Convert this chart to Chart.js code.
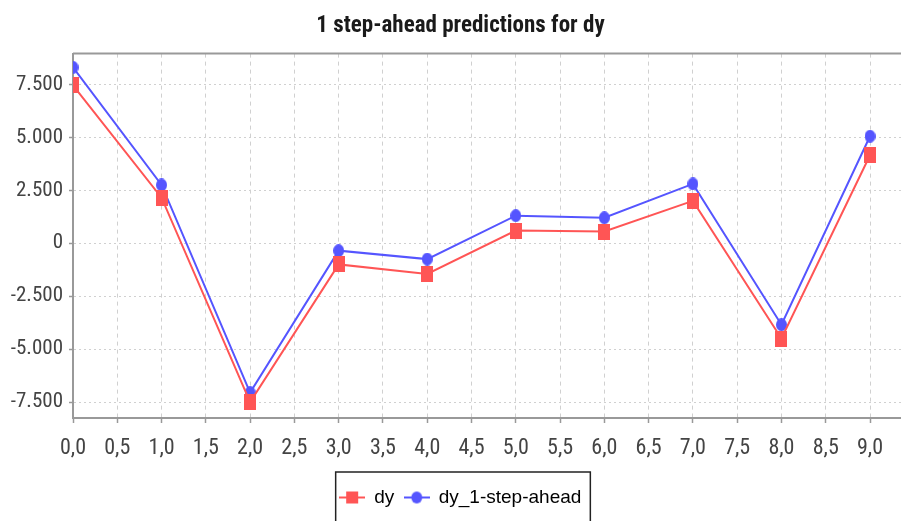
<!DOCTYPE html>
<html>
<head>
<meta charset="utf-8">
<script src="https://cdn.jsdelivr.net/npm/chart.js@4.4.1/dist/chart.umd.min.js"></script>
<style>
  html, body { margin: 0; padding: 0; background: #fff; }
  #wrap { width: 901px; height: 521px; }
</style>
</head>
<body>
<div id="wrap"><canvas id="chart"></canvas></div>
<script>
// data
const steps = [0, 1, 2, 3, 4, 5, 6, 7, 8, 9];
const dyValues = [7450, 2150, -7500, -1000, -1450, 600, 550, 2000, -4500, 4150];
const aheadValues = [8300, 2750, -7050, -350, -750, 1300, 1200, 2800, -3850, 5050];
const xTickValues = [0, 0.5, 1, 1.5, 2, 2.5, 3, 3.5, 4, 4.5, 5, 5.5, 6, 6.5, 7, 7.5, 8, 8.5, 9];
const yTickValues = [-7500, -5000, -2500, 0, 2500, 5000, 7500];

const RED = '#ff5555';
const BLUE = '#5555ff';
const narrow = "'Roboto Condensed', 'Liberation Sans', sans-serif";

// point markers (JFreeChart style, slightly tall)
function makeMarker(w, h, color, shape) {
    const c = document.createElement('canvas');
    c.width = w;
    c.height = h;
    const g = c.getContext('2d');
    g.fillStyle = color;
    if (shape === 'rect') {
        g.fillRect(0, 0, w, h);
    } else {
        g.beginPath();
        g.ellipse(w / 2, h / 2, w / 2, h / 2, 0, 0, Math.PI * 2);
        g.fill();
    }
    return c;
}

// legend icon: short line with the marker in the middle
function makeLegendIcon(color, shape) {
    const c = document.createElement('canvas');
    c.width = 26;
    c.height = 14;
    const g = c.getContext('2d');
    g.strokeStyle = color;
    g.lineWidth = 2;
    g.beginPath();
    g.moveTo(0, 7);
    g.lineTo(26, 7);
    g.stroke();
    g.fillStyle = color;
    if (shape === 'rect') {
        g.fillRect(7, 1, 12, 12);
    } else {
        g.beginPath();
        g.ellipse(13, 7, 5.5, 6, 0, 0, Math.PI * 2);
        g.fill();
    }
    return c;
}

const redSquare = makeMarker(12, 16, RED, 'rect');
const blueDot = makeMarker(11, 13, BLUE, 'circle');
const legendIcons = [makeLegendIcon(RED, 'rect'), makeLegendIcon(BLUE, 'circle')];

// thin frame line on top of the plot and a box around the legend
const framePlugin = {
    id: 'frame',
    afterDraw(chart) {
        const ctx = chart.ctx;
        const area = chart.chartArea;
        ctx.save();
        ctx.strokeStyle = '#999';
        ctx.lineWidth = 2;
        ctx.beginPath();
        ctx.moveTo(area.left, area.top);
        ctx.lineTo(area.right, area.top);
        ctx.stroke();

        const legend = chart.legend;
        const boxes = legend.legendHitBoxes;
        if (boxes && boxes.length) {
            const first = boxes[0];
            const last = boxes[boxes.length - 1];
            const left = first.left - 4;
            const right = last.left + last.width + 9;
            const top = legend.top - 6;
            ctx.strokeStyle = '#222';
            ctx.lineWidth = 1.5;
            ctx.strokeRect(left, top, right - left, chart.height + 10 - top);
        }
        ctx.restore();
    }
};

const ctx = document.getElementById('chart').getContext('2d');
const chart = new Chart(ctx, {
    type: 'line',
    data: {
        datasets: [{
            label: 'dy',
            data: steps.map((s, i) => ({ x: s, y: dyValues[i] })),
            borderColor: RED,
            backgroundColor: RED,
            borderWidth: 2,
            pointStyle: redSquare,
            pointRadius: 6,
            pointHoverRadius: 6,
            tension: 0,
            clip: 0
        }, {
            label: 'dy_1-step-ahead',
            data: steps.map((s, i) => ({ x: s, y: aheadValues[i] })),
            borderColor: BLUE,
            backgroundColor: BLUE,
            borderWidth: 2,
            pointStyle: blueDot,
            pointRadius: 6,
            pointHoverRadius: 6,
            tension: 0,
            clip: 0
        }]
    },
    options: {
        responsive: true,
        maintainAspectRatio: false,
        animation: false,
        layout: {
            autoPadding: false,
            // title and legend sit a little right of the canvas centre
            padding: { left: 0, right: -20, top: 0, bottom: 4 }
        },
        scales: {
            x: {
                type: 'linear',
                min: 0,
                max: 9.35,
                afterBuildTicks: scale => {
                    scale.ticks = xTickValues.map(v => ({ value: v }));
                },
                afterFit: scale => {
                    scale.height = 60;
                },
                grid: {
                    color: '#d0d0d0',
                    tickColor: '#999',
                    tickLength: 5,
                    tickWidth: 1.5
                },
                border: { color: '#999', width: 2, dash: [4, 4] },
                ticks: {
                    autoSkip: false,
                    maxRotation: 0,
                    padding: 12,
                    color: '#444',
                    font: { family: narrow, size: 22 },
                    callback: v => v.toFixed(1).replace('.', ',')
                }
            },
            y: {
                min: -8250,
                max: 8950,
                afterBuildTicks: scale => {
                    scale.ticks = yTickValues.map(v => ({ value: v }));
                },
                afterFit: scale => {
                    scale.width = 73;
                },
                grid: {
                    color: '#d0d0d0',
                    tickColor: '#999',
                    tickLength: 4,
                    tickWidth: 1.5
                },
                border: { color: '#999', width: 2, dash: [2, 3] },
                ticks: {
                    padding: 6,
                    color: '#444',
                    font: { family: narrow, size: 21 },
                    callback: v => (v < 0 ? '-' : '') + String(Math.abs(v)).replace(/(\d)(?=(\d{3})+$)/, '$1.')
                }
            }
        },
        plugins: {
            title: {
                display: true,
                text: '1 step-ahead predictions for dy',
                color: '#1a1a1a',
                font: { family: narrow, size: 23, weight: 'bold' },
                padding: { top: 12, bottom: 14 }
            },
            legend: {
                position: 'bottom',
                labels: {
                    usePointStyle: true,
                    pointStyleWidth: 25,
                    padding: 10,
                    color: '#222',
                    font: { family: "'Liberation Sans', Arial, sans-serif", size: 19 },
                    generateLabels: c => c.data.datasets.map((ds, i) => ({
                        text: ds.label,
                        pointStyle: legendIcons[i],
                        fillStyle: ds.borderColor,
                        strokeStyle: ds.borderColor,
                        lineWidth: 0,
                        hidden: false,
                        datasetIndex: i
                    }))
                }
            },
            tooltip: { enabled: false }
        }
    },
    plugins: [framePlugin]
});
</script>
</body>
</html>
